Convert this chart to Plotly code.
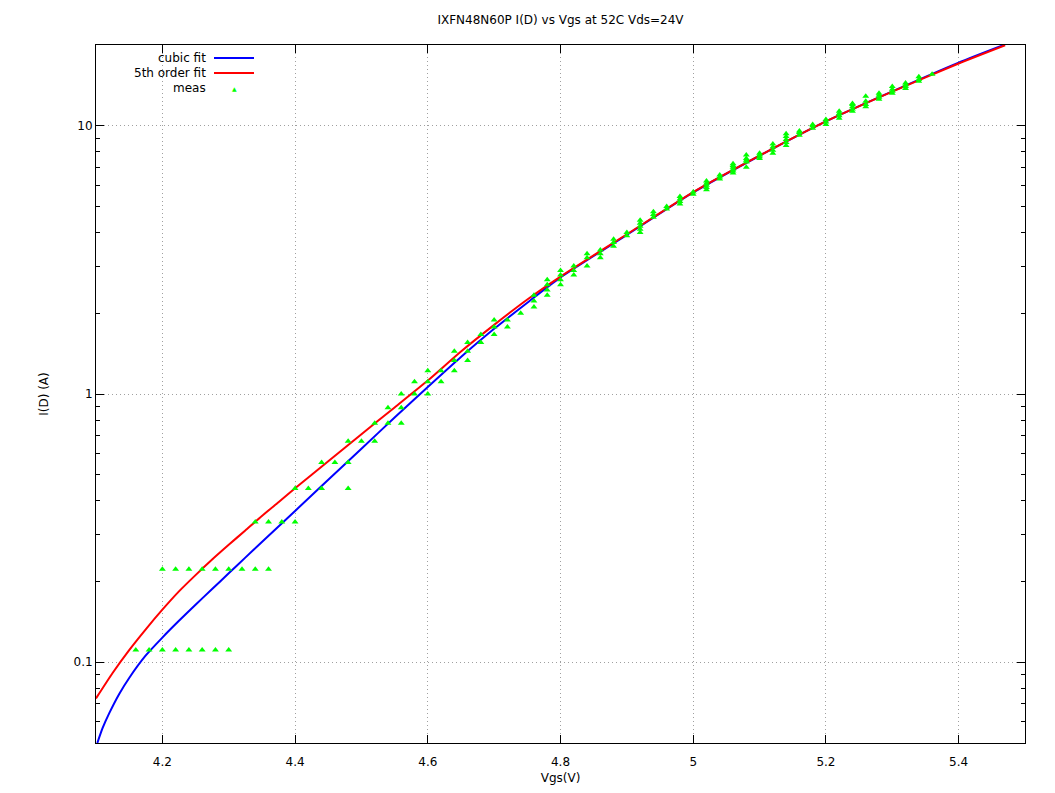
import plotly.graph_objects as go

# ---- data ----
cubic_vgs = [4.102, 4.11, 4.12, 4.135, 4.15, 4.175, 4.2, 4.225, 4.25, 4.275, 4.3, 4.325, 4.35,
             4.375, 4.4, 4.45, 4.5, 4.55, 4.6, 4.65, 4.7, 4.75, 4.8, 4.9, 5.0, 5.1, 5.2, 5.3,
             5.4, 5.47]
cubic_id = [0.050, 0.0569, 0.0646, 0.0762, 0.0874, 0.106, 0.1236, 0.1427, 0.1638, 0.1875,
            0.2145, 0.2455, 0.2805, 0.3206, 0.3664, 0.4786, 0.625, 0.817, 1.062, 1.374, 1.75,
            2.19, 2.72, 3.92, 5.64, 7.73, 10.38, 13.43, 17.2, 20.1]

fifth_vgs = [4.1, 4.125, 4.15, 4.175, 4.2, 4.225, 4.25, 4.275, 4.3, 4.325, 4.35, 4.375, 4.4,
             4.45, 4.5, 4.55, 4.6, 4.65, 4.7, 4.75, 4.8, 4.9, 5.0, 5.1, 5.2, 5.3, 5.4, 5.47]
fifth_id = [0.0733, 0.0912, 0.111, 0.1327, 0.157, 0.1837, 0.2113, 0.2415, 0.274, 0.310, 0.351,
            0.395, 0.445, 0.561, 0.708, 0.891, 1.122, 1.44, 1.81, 2.25, 2.74, 3.94, 5.66,
            7.74, 10.38, 13.40, 17.06, 19.95]

meas_steps = [4.16, 4.18, 4.20, 4.22, 4.24, 4.26, 4.28, 4.30, 4.32, 4.34, 4.36, 4.38, 4.40, 4.42,
              4.44, 4.46, 4.48, 4.50, 4.52, 4.54, 4.56, 4.58, 4.60, 4.62, 4.64, 4.66, 4.68, 4.70,
              4.72, 4.74, 4.76, 4.78, 4.80, 4.82, 4.84, 4.86, 4.88, 4.90, 4.92, 4.94, 4.96, 4.98,
              5.00, 5.02, 5.04, 5.06, 5.08, 5.10, 5.12, 5.14, 5.16, 5.18, 5.20, 5.22, 5.24, 5.26,
              5.28, 5.30, 5.32, 5.34, 5.36]
meas_levels = [
    [0.111], [0.111], [0.111, 0.222], [0.111, 0.222], [0.111, 0.222], [0.111, 0.222],
    [0.111, 0.222], [0.111, 0.222], [0.222], [0.222, 0.333], [0.222, 0.333], [0.333],
    [0.333, 0.444], [0.444], [0.444, 0.556], [0.556], [0.444, 0.556, 0.667], [0.667],
    [0.667, 0.778], [0.778, 0.889], [0.778, 0.889, 1.0], [1.0, 1.111], [1.0, 1.111, 1.222],
    [1.111, 1.222], [1.222, 1.333, 1.444], [1.333, 1.444, 1.556], [1.556, 1.667],
    [1.667, 1.778, 1.889], [1.778, 1.889], [2.0], [2.111, 2.222, 2.333],
    [2.333, 2.444, 2.556, 2.667], [2.556, 2.667, 2.778, 2.889], [2.778, 2.889, 3.0],
    [3.0, 3.222, 3.333], [3.222, 3.333, 3.444], [3.556, 3.667, 3.778], [3.889, 4.0],
    [4.0, 4.111, 4.222, 4.333, 4.444], [4.556, 4.667, 4.778], [4.889, 5.0],
    [5.111, 5.222, 5.333, 5.444], [5.556, 5.667], [5.778, 5.889, 6.0, 6.111, 6.222],
    [6.333, 6.444, 6.556], [6.667, 6.778, 6.889, 7.0, 7.111, 7.222],
    [7.0, 7.333, 7.444, 7.556, 7.778], [7.556, 7.667, 7.778, 7.889],
    [7.889, 8.111, 8.333, 8.556], [8.444, 8.667, 8.889, 9.111, 9.333], [9.222, 9.444, 9.556],
    [9.778, 10.0, 10.111], [10.111, 10.333, 10.556], [10.667, 10.889, 11.111, 11.333],
    [11.333, 11.556, 11.778, 12.0, 12.111], [11.778, 12.0, 12.333, 12.889],
    [12.556, 12.778, 13.0, 13.222], [13.222, 13.444, 13.667, 14.0],
    [13.778, 14.0, 14.222, 14.444], [14.667, 14.889, 15.222], [15.556],
]

x_tick_vals = [4.2, 4.4, 4.6, 4.8, 5.0, 5.2, 5.4]
x_tick_text = ["4.2", "4.4", "4.6", "4.8", "5", "5.2", "5.4"]
y_tick_vals = [0.1, 1, 10]
y_tick_text = ["0.1", "1", "10"]
y_minor_vals = [0.06, 0.07, 0.08, 0.09, 0.2, 0.3, 0.4, 0.5, 0.6, 0.7, 0.8, 0.9,
                2, 3, 4, 5, 6, 7, 8, 9, 20]

meas_vgs = [v for v, lv in zip(meas_steps, meas_levels) for _ in lv]
meas_id = [i for lv in meas_levels for i in lv]

FONT = "DejaVu Sans"

fig = go.Figure()
fig.add_trace(go.Scatter(x=cubic_vgs, y=cubic_id, mode="lines", name="cubic fit",
                         line=dict(color="#0000ff", width=2, shape="spline", smoothing=0.6),
                         showlegend=False))
fig.add_trace(go.Scatter(x=fifth_vgs, y=fifth_id, mode="lines", name="5th order fit",
                         line=dict(color="#ff0000", width=2, shape="spline", smoothing=0.6),
                         showlegend=False))
fig.add_trace(go.Scatter(x=meas_vgs, y=meas_id, mode="markers", name="meas",
                         marker=dict(symbol="triangle-up", size=6, color="#00ff00",
                                     line=dict(width=0)),
                         showlegend=False))

# page offset of 8px (browser body margin) is taken into account
OFF = 8
L, R, T, B = 96 - OFF, 38, 45 - OFF, 58
W, H = 929.0, 698.0
def px(x):
    return (x - 96) / W
def py(y):
    return 1 - (y - 45) / H

key = [("cubic fit", "#0000ff", 58), ("5th order fit", "#ff0000", 73), ("meas", None, 88)]
for label, col, yy in key:
    fig.add_annotation(x=px(208), y=py(yy), xref="paper", yref="paper", text=label,
                       showarrow=False, xanchor="right", yanchor="middle",
                       font=dict(family=FONT, size=12, color="#000000"))
    if col:
        fig.add_shape(type="line", xref="paper", yref="paper", x0=px(214), x1=px(254),
                      y0=py(yy), y1=py(yy), line=dict(color=col, width=2))
    else:
        fig.add_annotation(x=px(234), y=py(yy), xref="paper", yref="paper", text="▲",
                           showarrow=False, xanchor="center", yanchor="middle",
                           font=dict(family=FONT, size=6, color="#00ff00"))

fig.update_layout(
    width=1055, height=793,
    margin=dict(l=L, r=R, t=T, b=B),
    paper_bgcolor="white", plot_bgcolor="white",
    font=dict(family=FONT, size=12, color="#000000"),
    title=dict(text="IXFN48N60P I(D) vs Vgs at 52C Vds=24V", x=0.5, xref="paper",
               y=1 - (20 - OFF) / 793, yref="container", xanchor="center", yanchor="middle",
               font=dict(family=FONT, size=12, color="#000000")),
    xaxis=dict(range=[4.1, 5.5], tickmode="array", tickvals=x_tick_vals, ticktext=x_tick_text,
               ticks="inside", ticklen=8, tickcolor="#000000", showline=True,
               linecolor="#000000", linewidth=1, mirror="ticks", showgrid=True,
               gridcolor="#a0a0a0", griddash="1px,3px", gridwidth=1, zeroline=False,
               ticklabelstandoff=8,
               title=dict(text="Vgs(V)", standoff=5, font=dict(family=FONT, size=12)),
               tickfont=dict(family=FONT, size=12)),
    yaxis=dict(type="log", range=[-1.30103, 1.30103], tickmode="array", tickvals=y_tick_vals,
               ticktext=y_tick_text, ticks="inside", ticklen=8, tickcolor="#000000",
               showline=True, linecolor="#000000", linewidth=1, mirror="ticks",
               showgrid=True, gridcolor="#a0a0a0", griddash="1px,3px", gridwidth=1,
               zeroline=False,
               minor=dict(tickmode="array", tickvals=y_minor_vals, ticks="inside", ticklen=4,
                          tickcolor="#000000", showgrid=False),
               title=dict(text="I(D) (A)", standoff=22, font=dict(family=FONT, size=12)),
               tickfont=dict(family=FONT, size=12)),
)

fig.write_html("out.html")
